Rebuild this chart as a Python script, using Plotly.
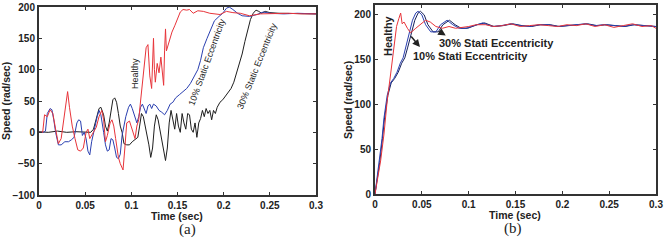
import plotly.graph_objects as go

# ---------------- data: panel (a) ----------------
a_healthy_t = [0.0, 0.004, 0.006, 0.009, 0.012, 0.015, 0.018, 0.021, 0.024, 0.027, 0.029, 0.031, 0.033, 0.036,
               0.039, 0.042, 0.045, 0.048, 0.051, 0.053, 0.055, 0.057, 0.059, 0.062, 0.065, 0.068, 0.070,
               0.072, 0.074, 0.077, 0.079, 0.081, 0.083, 0.086, 0.088, 0.091, 0.093, 0.095, 0.098, 0.101,
               0.104, 0.106, 0.108, 0.110, 0.112, 0.114, 0.116, 0.118, 0.120, 0.122, 0.124, 0.125, 0.126,
               0.128, 0.130, 0.132, 0.133, 0.135, 0.136, 0.137, 0.138, 0.140, 0.142, 0.144, 0.147, 0.150,
               0.153, 0.156, 0.160, 0.163, 0.167, 0.172, 0.178, 0.185, 0.190, 0.196, 0.203, 0.210, 0.218,
               0.228, 0.240, 0.255, 0.270, 0.285, 0.300]
a_healthy_v = [0, 0, 28, 25, 36, 30, 5, -18, -10, 20, 45, 65, 40, 10,
               -10, -28, -30, -25, 0, 5, -10, -5, 0, 8, 25, 35, 20,
               -15, -5, 15, 20, 10, -10, -40, -50, -60, -25, 15, 18, 5,
               -10, 10, 20, 50, 80, 110, 135, 140, 90, 70, 150, 100, 80,
               110, 95, 120, 105, 75, 130, 165, 130, 140, 150, 160, 170, 182,
               192, 196, 195, 196, 190, 194, 193, 190, 189, 188, 193, 191, 190,
               186, 189, 190, 190, 189, 189]

a_ecc10_t = [0.0, 0.005, 0.007, 0.009, 0.012, 0.014, 0.016, 0.018, 0.021, 0.024, 0.028, 0.032, 0.035,
             0.038, 0.041, 0.043, 0.045, 0.047, 0.049, 0.051, 0.053, 0.055, 0.057, 0.059, 0.061, 0.063,
             0.065, 0.067, 0.070, 0.072, 0.074, 0.076, 0.078, 0.080, 0.082, 0.084, 0.086, 0.088, 0.090,
             0.092, 0.094, 0.097, 0.099, 0.101, 0.104, 0.106, 0.108, 0.110, 0.112, 0.114, 0.116, 0.118,
             0.120, 0.122, 0.124, 0.127, 0.130, 0.133, 0.136, 0.139, 0.142, 0.145, 0.148, 0.152, 0.156,
             0.160, 0.164, 0.168, 0.172, 0.175, 0.178, 0.182, 0.186, 0.190, 0.195, 0.199, 0.203, 0.206,
             0.210, 0.215, 0.220, 0.228, 0.236, 0.243, 0.250, 0.265, 0.280, 0.300]
a_ecc10_v = [0, 0, 2, 30, 38, 36, 20, 0, -20, -20, -15, -15, -12,
             -8, 15, 20, 18, -5, 0, -10, -30, -36, -15, 0, 15, 25,
             35, 28, 0, -20, -30, -28, -10, -12, -25, -40, -42, -35, -5,
             10, 25, 40, 45, 38, 22, 15, 25, 40, 45, 38, 30, 42,
             45, 38, 45, 42, 35, 32, 28, 35, 45, 48, 55, 60, 65,
             70, 78, 88, 100, 115, 135, 150, 165, 178, 185, 190, 198, 200,
             196, 190, 186, 185, 188, 192, 190, 189, 190, 189]

a_ecc30_t = [0.0, 0.010, 0.020, 0.030, 0.040, 0.050, 0.056, 0.059, 0.062, 0.065, 0.067, 0.070, 0.072,
             0.074, 0.076, 0.078, 0.080, 0.082, 0.084, 0.086, 0.088, 0.090, 0.092, 0.095, 0.098, 0.101,
             0.104, 0.107, 0.109, 0.111, 0.113, 0.115, 0.117, 0.119, 0.121, 0.123, 0.125, 0.127, 0.129,
             0.131, 0.133, 0.135, 0.137, 0.139, 0.141, 0.143, 0.145, 0.147, 0.149, 0.151, 0.153, 0.155,
             0.157, 0.159, 0.161, 0.163, 0.165, 0.167, 0.169, 0.171, 0.173, 0.175, 0.177, 0.179, 0.181,
             0.183, 0.185, 0.187, 0.189, 0.191, 0.193, 0.196, 0.199, 0.202, 0.205, 0.208, 0.211, 0.214,
             0.217, 0.220, 0.223, 0.226, 0.229, 0.232, 0.235, 0.238, 0.241, 0.245, 0.250, 0.260, 0.270,
             0.285, 0.300]
a_ecc30_v = [1, 0, 2, 0, 1, 0, 0, 5, 20, 38, 40, 28, 10,
             2, 15, 35, 52, 55, 48, 30, 10, 0, -18, -20, -20, -15,
             -12, -8, 10, 30, 25, 10, 0, -20, -40, -25, 10, 28, 20,
             5, -15, -30, -45, -25, 15, 35, 20, 5, 30, 10, 0, 30,
             15, 5, 30, 28, 5, 0, 15, -8, 15, 22, 35, 25, 38,
             30, 35, 20, 35, 30, 40, 48, 52, 58, 62, 70, 80, 95,
             110, 125, 145, 165, 180, 190, 195, 193, 190, 193, 191, 190, 190,
             189, 189]

# ---------------- data: panel (b) ----------------
b_healthy_t = [0.0, 0.0025, 0.006, 0.0096, 0.013, 0.0167, 0.0203, 0.023, 0.0255, 0.0274, 0.029, 0.031,
               0.0346, 0.038, 0.0435, 0.049, 0.054, 0.059, 0.065, 0.072, 0.079, 0.086, 0.093, 0.100,
               0.108, 0.118, 0.127, 0.136, 0.145, 0.155, 0.165, 0.175, 0.185, 0.195, 0.205, 0.215, 0.225,
               0.235, 0.245, 0.255, 0.265, 0.275, 0.285, 0.295, 0.300]
b_healthy_v = [0, 14, 37, 67, 104, 134, 164, 187, 196, 202, 190, 192,
               185, 180, 185, 190, 194, 192, 187, 185, 187, 185, 186, 187,
               189, 189, 187, 188, 190, 187, 188, 189, 188, 187, 189, 188, 190,
               187, 189, 186, 188, 190, 187, 188, 185]

b_ecc10_t = [0.0, 0.0025, 0.0045, 0.0075, 0.0096, 0.013, 0.0165, 0.020, 0.0235, 0.027, 0.030, 0.0328, 0.036,
             0.040, 0.0435, 0.046, 0.050, 0.054, 0.0595, 0.065, 0.070, 0.0738, 0.077, 0.083, 0.0898,
             0.097, 0.1076, 0.115, 0.125, 0.135, 0.145, 0.155, 0.165, 0.175, 0.185, 0.195, 0.205, 0.215,
             0.225, 0.235, 0.245, 0.255, 0.265, 0.275, 0.285, 0.300]
b_ecc10_v = [0, 20, 35, 62, 85, 110, 124, 129, 136, 146, 152, 164, 179,
             194, 202, 204, 200, 189, 181, 181, 189, 192, 194, 189, 185,
             185, 189, 191, 187, 188, 190, 188, 187, 189, 189, 187, 188, 189,
             190, 188, 189, 188, 187, 189, 188, 187]

b_ecc30_t = [0.0, 0.003, 0.005, 0.008, 0.0102, 0.0137, 0.0173, 0.021, 0.0248, 0.0285, 0.0318, 0.035, 0.0385,
             0.0425, 0.046, 0.0485, 0.0525, 0.0565, 0.062, 0.0675, 0.0725, 0.0763, 0.0795, 0.0855, 0.092,
             0.099, 0.109, 0.117, 0.127, 0.137, 0.147, 0.157, 0.167, 0.177, 0.187, 0.197, 0.207, 0.217,
             0.227, 0.237, 0.247, 0.257, 0.267, 0.277, 0.287, 0.300]
b_ecc30_v = b_ecc10_v[:]

x_ticks = [0, 0.05, 0.1, 0.15, 0.2, 0.25, 0.3]
x_ticklabels = ["0", "0.05", "0.1", "0.15", "0.2", "0.25", "0.3"]
ya_ticks = [-100, -50, 0, 50, 100, 150, 200]
yb_ticks = [0, 50, 100, 150, 200]

RED = "#e8343a"
BLUE = "#2a3fb0"
BLACK = "#1e1e1e"
NAVY = "#15205a"

fig = go.Figure()
fig.add_trace(go.Scatter(x=a_ecc30_t, y=a_ecc30_v, mode="lines", line=dict(color=BLACK, width=1),
                         xaxis="x", yaxis="y", showlegend=False))
fig.add_trace(go.Scatter(x=a_ecc10_t, y=a_ecc10_v, mode="lines", line=dict(color=BLUE, width=1),
                         xaxis="x", yaxis="y", showlegend=False))
fig.add_trace(go.Scatter(x=a_healthy_t, y=a_healthy_v, mode="lines", line=dict(color=RED, width=1),
                         xaxis="x", yaxis="y", showlegend=False))

fig.add_trace(go.Scatter(x=b_ecc30_t, y=b_ecc30_v, mode="lines", line=dict(color=NAVY, width=1),
                         xaxis="x2", yaxis="y2", showlegend=False))
fig.add_trace(go.Scatter(x=b_ecc10_t, y=b_ecc10_v, mode="lines", line=dict(color=BLUE, width=1),
                         xaxis="x2", yaxis="y2", showlegend=False))
fig.add_trace(go.Scatter(x=b_healthy_t, y=b_healthy_v, mode="lines", line=dict(color=RED, width=1),
                         xaxis="x2", yaxis="y2", showlegend=False))

tickfont = dict(family="Liberation Sans, Arial, sans-serif", size=10, color="#222", weight="bold")
axis_common = dict(showgrid=False, zeroline=False, showline=True, linecolor="#333", linewidth=2,
                   mirror="ticks", ticks="inside", ticklen=3, tickcolor="#333", tickwidth=1,
                   tickfont=tickfont, automargin=False)

fig.update_layout(
    width=672, height=242, autosize=False,
    margin=dict(l=0, r=0, t=0, b=0, pad=0, autoexpand=False),
    paper_bgcolor="white", plot_bgcolor="white",
    xaxis=dict(domain=[39/672, 316/672], range=[0, 0.3], tickvals=x_ticks, ticktext=x_ticklabels,
               anchor="y", ticklabelstandoff=0, **axis_common),
    yaxis=dict(domain=[1-195/242, 1-7/242], range=[-100, 200], tickvals=ya_ticks,
               anchor="x", **axis_common),
    xaxis2=dict(domain=[375/672, 656/672], range=[0, 0.3], tickvals=x_ticks, ticktext=x_ticklabels,
                anchor="y2", ticklabelstandoff=0, **axis_common),
    yaxis2=dict(domain=[1-194/242, 1-5/242], range=[0, 211], tickvals=yb_ticks,
                anchor="x2", **axis_common),
)

labfont = dict(family="Liberation Sans, Arial, sans-serif", size=10.5, color="#222", weight="bold")
ann = []
# axis titles
ann.append(dict(text="Time (sec)", x=177/672, y=1-216/242, xref="paper", yref="paper",
                showarrow=False, font=labfont, xanchor="center", yanchor="middle"))
ann.append(dict(text="Speed (rad/sec)", x=6/672, y=1-101/242, xref="paper", yref="paper",
                showarrow=False, font=labfont, textangle=-90, xanchor="center", yanchor="middle"))
ann.append(dict(text="Time (sec)", x=515/672, y=1-215/242, xref="paper", yref="paper",
                showarrow=False, font=labfont, xanchor="center", yanchor="middle"))
ann.append(dict(text="Speed (rad/sec)", x=348/672, y=1-100/242, xref="paper", yref="paper",
                showarrow=False, font=labfont, textangle=-90, xanchor="center", yanchor="middle"))
# panel labels
serif = dict(family="Liberation Serif, Times New Roman, serif", size=15, color="#222")
ann.append(dict(text="(a)", x=187/672, y=1-229/242, xref="paper", yref="paper",
                showarrow=False, font=serif, xanchor="center", yanchor="middle"))
ann.append(dict(text="(b)", x=513/672, y=1-228/242, xref="paper", yref="paper",
                showarrow=False, font=serif, xanchor="center", yanchor="middle"))
# panel (a) curve labels
small = dict(family="Liberation Sans, Arial, sans-serif", size=9, color="#222")
ann.append(dict(text="Healthy", x=135/672, y=1-74/242, xref="paper", yref="paper",
                showarrow=False, font=small, textangle=-90, xanchor="center", yanchor="middle"))
ann.append(dict(text="10% Static Eccentricity", x=207/672, y=1-62/242, xref="paper", yref="paper",
                showarrow=False, font=small, textangle=-70, xanchor="center", yanchor="middle"))
ann.append(dict(text="30% Static Eccentricity", x=257/672, y=1-66/242, xref="paper", yref="paper",
                showarrow=False, font=small, textangle=-68, xanchor="center", yanchor="middle"))
# panel (b) curve labels
bl = dict(family="Liberation Sans, Arial, sans-serif", size=11, color="#222", weight="bold")
ann.append(dict(text="Healthy", x=388/672, y=1-35/242, xref="paper", yref="paper",
                showarrow=False, font=bl, textangle=-90, xanchor="center", yanchor="middle"))
ann.append(dict(text="30% Stati Eccentricity", x=496/672, y=1-43/242, xref="paper", yref="paper",
                showarrow=False, font=bl, xanchor="center", yanchor="middle"))
ann.append(dict(text="10% Stati Eccentricity", x=471/672, y=1-56/242, xref="paper", yref="paper",
                showarrow=False, font=bl, xanchor="center", yanchor="middle"))
# arrows in panel (b)
ann.append(dict(text="", x=0.048, y=164, xref="x2", yref="y2", ax=-10, ay=-12,
                showarrow=True, arrowhead=2, arrowsize=1, arrowwidth=1.5, arrowcolor="#222"))
ann.append(dict(text="", x=0.0755, y=177, xref="x2", yref="y2", ax=-8, ay=-5,
                showarrow=True, arrowhead=2, arrowsize=1, arrowwidth=1.5, arrowcolor="#222"))

fig.update_layout(annotations=ann)
fig.write_html("out.html")
